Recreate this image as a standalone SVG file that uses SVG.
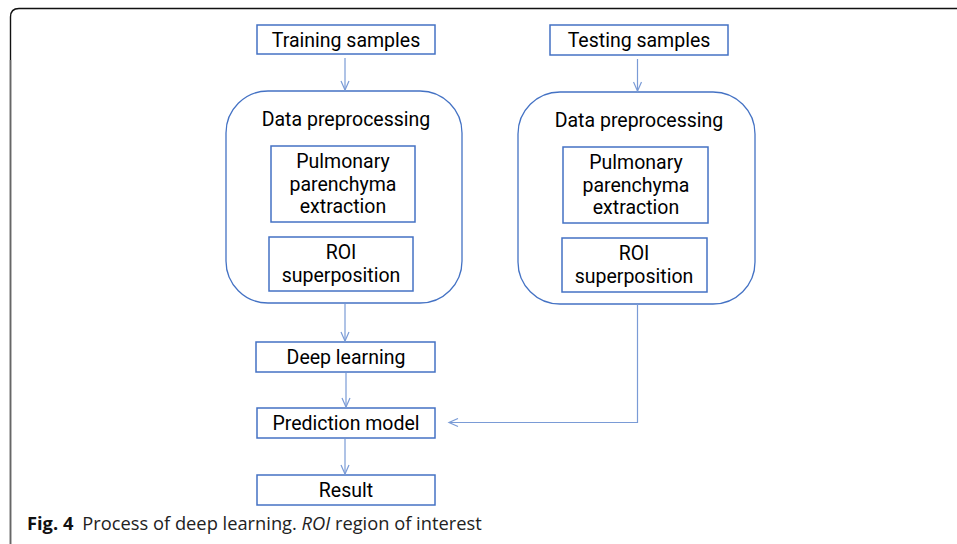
<svg xmlns="http://www.w3.org/2000/svg" width="957" height="544" viewBox="0 0 957 544">
<defs>
<style>
.box{fill:#fff;stroke:#4472c4;stroke-width:1.5}
.grp{fill:#fff;stroke:#4472c4;stroke-width:1.3}
.t{font-family:Roboto,"Noto Sans",sans-serif;font-size:19.5px;fill:#000;text-anchor:middle}
.c{stroke:#7a9bd6;stroke-width:1.2;fill:none}
.cap{font-family:"Open Sans","Noto Sans",sans-serif;font-size:18.3px;fill:#222}
</style>
<marker id="ah" markerWidth="12" markerHeight="10" refX="10" refY="5" orient="auto" markerUnits="userSpaceOnUse">
<path d="M1,1 L10,5 L1,9" fill="none" stroke="#7a9bd6" stroke-width="1.2"/>
</marker>
</defs>
<rect width="957" height="544" fill="#fff"/>
<path d="M10.5 544 L10.5 17 Q10.5 8.5 19 8.5 L957 8.5" fill="none" stroke="#111" stroke-width="1.4"/>
<path d="M10.5 60 L10.5 544" fill="none" stroke="#666" stroke-width="1.4"/>

<g id="training">
<rect class="box" x="257" y="25" width="178" height="29"/>
<text class="t" x="346" y="47">Training samples</text>
</g>
<g id="testing">
<rect class="box" x="550" y="25" width="178" height="30"/>
<text class="t" x="639" y="47">Testing samples</text>
</g>
<g id="prep-left">
<rect class="grp" x="226" y="91" width="236" height="212" rx="42" ry="42"/>
<text class="t" x="346" y="126">Data preprocessing</text>
</g>
<g id="pul-left">
<rect class="box" x="271" y="146" width="144" height="76"/>
<text class="t"><tspan x="343" y="168">Pulmonary</tspan><tspan x="343" y="191">parenchyma</tspan><tspan x="343" y="213">extraction</tspan></text>
</g>
<g id="roi-left">
<rect class="box" x="269" y="237" width="144" height="54"/>
<text class="t"><tspan x="341" y="259">ROI</tspan><tspan x="341" y="282">superposition</tspan></text>
</g>
<g id="prep-right">
<rect class="grp" x="518" y="92" width="237" height="212" rx="42" ry="42"/>
<text class="t" x="639" y="127">Data preprocessing</text>
</g>
<g id="pul-right">
<rect class="box" x="563" y="147" width="145" height="76"/>
<text class="t"><tspan x="636" y="169">Pulmonary</tspan><tspan x="636" y="192">parenchyma</tspan><tspan x="636" y="214">extraction</tspan></text>
</g>
<g id="roi-right">
<rect class="box" x="562" y="238" width="145" height="54"/>
<text class="t"><tspan x="634" y="260">ROI</tspan><tspan x="634" y="283">superposition</tspan></text>
</g>
<g id="deep">
<rect class="box" x="256" y="342" width="179" height="30"/>
<text class="t" x="346" y="364">Deep learning</text>
</g>
<g id="pred">
<rect class="box" x="257" y="408" width="178" height="30"/>
<text class="t" x="346" y="430">Prediction model</text>
</g>
<g id="result">
<rect class="box" x="257" y="475" width="178" height="30"/>
<text class="t" x="346" y="497">Result</text>
</g>

<g id="connectors">
<line class="c" x1="345" y1="58" x2="345" y2="90" marker-end="url(#ah)"/>
<line class="c" x1="637.5" y1="59" x2="637.5" y2="91" marker-end="url(#ah)"/>
<line class="c" x1="345" y1="304" x2="345" y2="341" marker-end="url(#ah)"/>
<line class="c" x1="346" y1="373" x2="346" y2="407" marker-end="url(#ah)"/>
<line class="c" x1="345" y1="439" x2="345" y2="474" marker-end="url(#ah)"/>
<polyline class="c" points="637.5,304 637.5,422.5 449,422.5" marker-end="url(#ah)"/>
</g>

<text class="cap" x="27" y="530"><tspan font-weight="bold" fill="#111">Fig. 4</tspan><tspan dx="9">Process of deep learning. </tspan><tspan font-style="italic">ROI</tspan><tspan> region of interest</tspan></text>
</svg>
